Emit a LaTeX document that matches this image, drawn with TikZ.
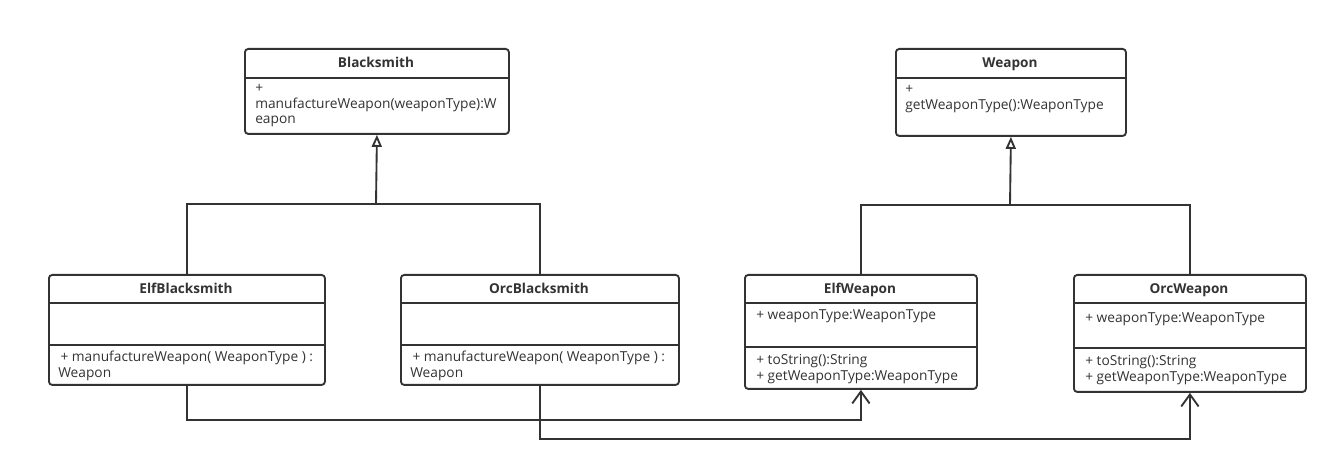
\documentclass[tikz,border=0pt]{standalone}
\usepackage{fontspec}
\setmainfont{Open Sans}
\usetikzlibrary{arrows.meta,positioning}
\definecolor{umlgray}{HTML}{333333}
\tikzset{
  classbox/.style={draw=umlgray, line width=1.4pt, rounded corners=2.5pt, anchor=north west, inner sep=0pt, fill=white},
  classname/.style={anchor=base, font=\bfseries\fontsize{10.2}{11.8}\selectfont, text=umlgray, inner sep=0pt},
  members/.style={anchor=north west, align=left, font=\fontsize{10.3}{11.8}\selectfont, text=umlgray, inner sep=0pt},
  divider/.style={draw=umlgray, line width=1.4pt},
  link/.style={draw=umlgray, line width=1.4pt},
  inherit/.style={link, -{Triangle[open,length=9pt,width=7.5pt]}},
  uses/.style={link, -{Straight Barb[length=9pt,width=13pt]}}
}

\begin{document}
\begin{tikzpicture}[x=0.75pt,y=0.75pt,yscale=-1,xscale=1]
%set diagram size
\useasboundingbox (0,0) rectangle (1336,470);

%Class: Blacksmith
\node[classbox, minimum width=198pt, minimum height=63.75pt] (blk) at (244,48) {};
\draw[divider] (244,78) -- (508,78);
% Text Node
\node[classname] (blkName) at (376,68) {Blacksmith};
% Text Node
\node[members] (blkOps) at (255,81) {\strut+\\manufactureWeapon(weaponType):W\\eapon};

%Class: Weapon
\node[classbox, minimum width=172.5pt, minimum height=65.25pt] (wpn) at (895,48) {};
\draw[divider] (895,78) -- (1125,78);
% Text Node
\node[classname] (wpnName) at (1010,68) {Weapon};
% Text Node
\node[members] (wpnOps) at (905,82) {\strut+\\getWeaponType():WeaponType};

%Class: ElfBlacksmith
\node[classbox, minimum width=207pt, minimum height=82.5pt] (elfb) at (48,274) {};
\draw[divider] (48,303) -- (324,303);
\draw[divider] (48,345) -- (324,345);
% Text Node
\node[classname] (elfbName) at (186,294) {ElfBlacksmith};
% Text Node
\node[members] (elfbOps) at (58,350) {\strut\,+ manufactureWeapon( WeaponType ) :\\Weapon};

%Class: OrcBlacksmith
\node[classbox, minimum width=208.5pt, minimum height=82.5pt] (orcb) at (400,274) {};
\draw[divider] (400,303) -- (678,303);
\draw[divider] (400,345) -- (678,345);
% Text Node
\node[classname] (orcbName) at (539,294) {OrcBlacksmith};
% Text Node
\node[members] (orcbOps) at (410,350) {\strut\,+ manufactureWeapon( WeaponType ) :\\Weapon};

%Class: ElfWeapon
\node[classbox, minimum width=174pt, minimum height=85.5pt] (elfw) at (744,274) {};
\draw[divider] (744,303) -- (976,303);
\draw[divider] (744,347) -- (976,347);
% Text Node
\node[classname] (elfwName) at (860,294) {ElfWeapon};
% Text Node
\node[members] (elfwAttr) at (756,308) {\strut+ weaponType:WeaponType};
% Text Node
\node[members] (elfwOps) at (756,353) {\strut+ toString():String\\+ getWeaponType:WeaponType};

%Class: OrcWeapon
\node[classbox, minimum width=174pt, minimum height=87.75pt] (orcw) at (1073,274) {};
\draw[divider] (1073,303) -- (1305,303);
\draw[divider] (1073,348) -- (1305,348);
% Text Node
\node[classname] (orcwName) at (1189,294) {OrcWeapon};
% Text Node
\node[members] (orcwAttr) at (1085,311) {\strut+ weaponType:WeaponType};
% Text Node
\node[members] (orcwOps) at (1085,354) {\strut+ toString():String\\+ getWeaponType:WeaponType};

%Inheritance: Blacksmith
\coordinate (blkJoin) at (376,204);
\draw[link] (elfb.north) |- (blkJoin);
\draw[link] (orcb.north) |- (blkJoin);
\draw[inherit] (blkJoin) -- (blk.south);

%Inheritance: Weapon
\coordinate (wpnJoin) at (1010,205);
\draw[link] (elfw.north) |- (wpnJoin);
\draw[link] (orcw.north) |- (wpnJoin);
\draw[inherit] (wpnJoin) -- (wpn.south);

%Associations
\draw[uses] (elfb.south) -- ++(0,34) -| (elfw.south);
\draw[uses] (orcb.south) -- ++(0,53) -| (orcw.south);

\end{tikzpicture}
\end{document}
